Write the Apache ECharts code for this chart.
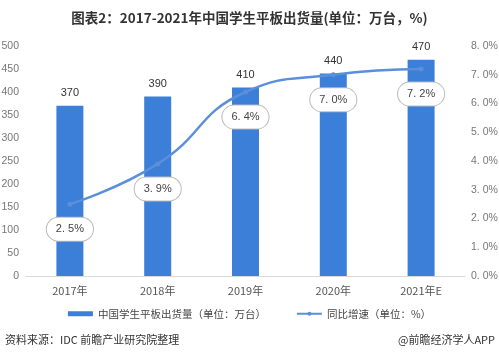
<!DOCTYPE html>
<html><head><meta charset="utf-8">
<script src="https://cdn.jsdelivr.net/npm/echarts@6/dist/echarts.min.js"></script>
<style>html,body{margin:0;padding:0;background:#fff}#c{width:499px;height:358px}</style>
</head><body><div id="c"></div>
<script>
const categories = ['2017年','2018年','2019年','2020年','2021年E'];
const shipments = [370, 390, 410, 440, 470];
const growth = [2.5, 3.9, 6.4, 7.0, 7.2];
const leftTicks = {min:0, max:500, interval:50};
const rightTicks = {min:0, max:8, interval:1};

const chart = echarts.init(document.getElementById('c'));
const font = '"Microsoft YaHei","Noto Sans CJK SC",sans-serif';
const numFont = '"Liberation Sans",Arial,sans-serif';
chart.setOption({
  animation:false,
  title:{text:'图表2：2017-2021年中国学生平板出货量(单位：万台，%)', left:'center', top:6,
    textStyle:{fontSize:13.5, fontWeight:'bold', color:'#333', fontFamily:font}},
  grid:{left:26, right:34, top:46, bottom:82, containLabel:false, outerBoundsMode:'none'},
  legend:{bottom:34, left:'center', itemGap:30, itemWidth:25, itemHeight:5,
    textStyle:{fontSize:10.5, color:'#444', fontFamily:font},
    data:[{name:'中国学生平板出货量（单位：万台）', icon:'rect'},{name:'同比增速（单位：%）'}]},
  xAxis:{type:'category', data:categories,
    axisLine:{lineStyle:{color:'#d9d9d9'}}, axisTick:{show:false},
    axisLabel:{color:'#555', fontSize:11, margin:9, fontFamily:font}},
  yAxis:[
    {type:'value', min:leftTicks.min, max:leftTicks.max, interval:leftTicks.interval,
     splitLine:{show:false}, axisLine:{show:false}, axisTick:{show:false},
     axisLabel:{color:'#777', fontSize:10.5, margin:7, fontFamily:numFont}},
    {type:'value', min:rightTicks.min, max:rightTicks.max, interval:rightTicks.interval,
     splitLine:{show:false}, axisLine:{show:false}, axisTick:{show:false},
     axisLabel:{color:'#777', fontSize:10.5, margin:6, fontFamily:numFont,
       formatter:v=>v.toFixed(1).replace('.', '. ')+'%'}}
  ],
  series:[
    {name:'中国学生平板出货量（单位：万台）', type:'bar', data:shipments, barWidth:27,
     itemStyle:{color:'#3b7fd9'},
     label:{show:true, position:'top', color:'#333', fontSize:11, distance:7, fontFamily:numFont}},
    {name:'同比增速（单位：%）', type:'line', yAxisIndex:1, data:growth, smooth:true,
     symbol:'circle', symbolSize:5, lineStyle:{color:'#5b8fd9', width:2.5},
     itemStyle:{color:'#5b8fd9'},
     label:{show:true, position:'bottom', distance:11, color:'#444', fontSize:11, fontFamily:numFont,
       formatter:p=>p.value.toFixed(1).replace('.', '. ')+'%',
       backgroundColor:'#fff', borderColor:'#bbb', borderWidth:1, borderRadius:14,
       padding:[6,9]}}
  ],
  graphic:[
    {type:'text', left:5, top:334, style:{text:'资料来源：IDC 前瞻产业研究院整理', fontSize:11, fill:'#333', fontFamily:font}},
    {type:'text', right:4, top:334, style:{text:'@前瞻经济学人APP', fontSize:11, fill:'#333', fontFamily:font}}
  ]
});
</script></body></html>
